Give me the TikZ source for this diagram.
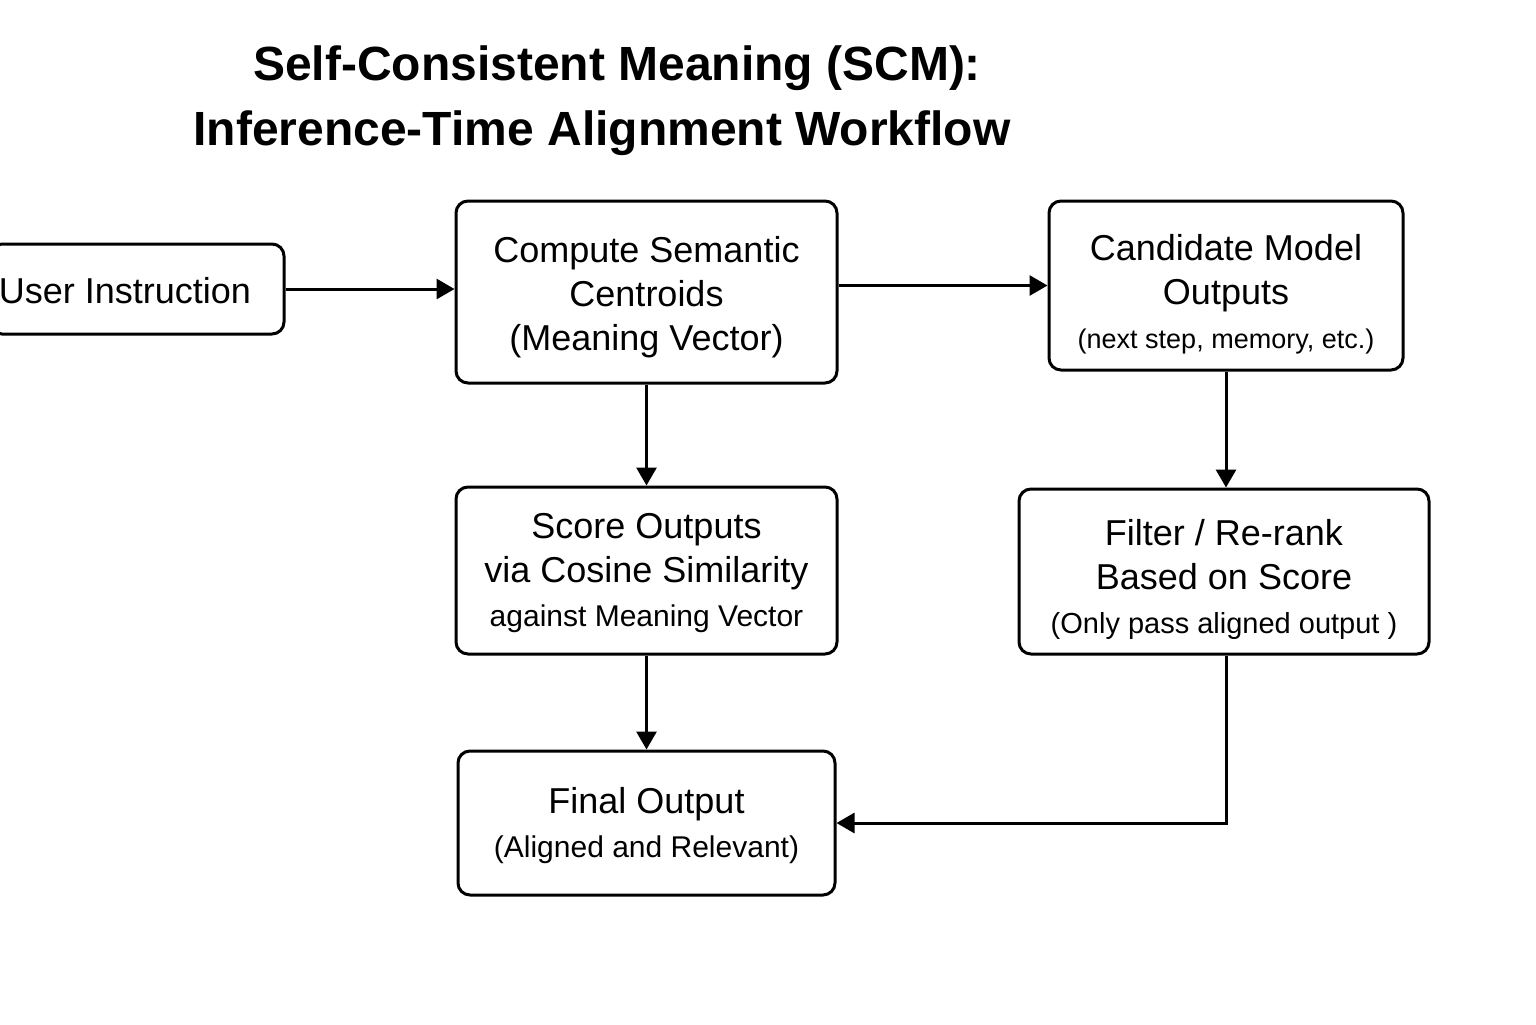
\documentclass[tikz,border=0pt]{standalone}
\usepackage{fontspec}
\setmainfont{Liberation Sans}
\usetikzlibrary{arrows.meta}
\begin{document}
\begin{tikzpicture}[x=0.5pt,y=-0.5pt,
  box/.style={draw, line width=1.5pt, rounded corners=6pt, inner sep=0pt},
  txt/.style={align=center, inner sep=0pt, font=\fontsize{18}{22}\selectfont},
  arr/.style={line width=1.5pt, -{Triangle[length=9pt,width=10pt]}},
  ttl/.style={anchor=base, font=\fontsize{24}{28}\selectfont\bfseries}]
\useasboundingbox (0,0) rectangle (1536,1024);
\clip (0,0) rectangle (1536,1024);
\node[ttl] (t1) at (617,80) {Self-Consistent Meaning (SCM):};
\node[ttl] (t2) at (602,145) {Inference-Time Alignment Workflow};

\node[box, minimum width=147pt, minimum height=45pt] (user) at (137,289) {};
\node[box, minimum width=190.5pt, minimum height=91pt] (compute) at (646.5,292) {};
\node[box, minimum width=177pt, minimum height=84.5pt] (cand) at (1226,285.5) {};
\node[box, minimum width=190.5pt, minimum height=83.5pt] (score) at (646.5,570.5) {};
\node[box, minimum width=205pt, minimum height=82.5pt] (filter) at (1224,571.5) {};
\node[box, minimum width=188.5pt, minimum height=72pt] (final) at (646.5,823) {};

\node[txt] (usertxt) at ([xshift=-6pt,yshift=-1pt]user.center) {User Instruction};
\node[txt] (computetxt) at ([yshift=-2.5pt]compute.center)
  {Compute Semantic\\Centroids\\(Meaning Vector)};
\node[txt] (candtxt) at ([yshift=-4.5pt]cand.center)
  {Candidate Model\\Outputs\\{\fontsize{13.5}{22}\selectfont (next step, memory, etc.)}};
\node[txt] (scoretxt) at ([yshift=-1.5pt]score.center)
  {Score Outputs\\via Cosine Similarity\\{\fontsize{15}{23}\selectfont against Meaning Vector}};
\node[txt] (filtertxt) at ([yshift=-4pt]filter.center)
  {Filter / Re-rank\\Based on Score\\{\fontsize{14.5}{21}\selectfont (Only pass aligned output )}};
\node[txt] (finaltxt) at ([yshift=-1.5pt]final.center)
  {Final Output\\{\fontsize{15}{22}\selectfont (Aligned and Relevant)}};

\draw[arr] (user.east) -- (compute.west |- user.east);
\draw[arr] (compute.east |- cand.west) -- (cand.west);
\draw[arr] (compute.south) -- (score.north);
\draw[arr] (cand.south) -- (cand.south |- filter.north);
\draw[arr] (score.south) -- (final.north);
\draw[arr] (cand.south |- filter.south) |- (final.east);
\end{tikzpicture}
\end{document}
